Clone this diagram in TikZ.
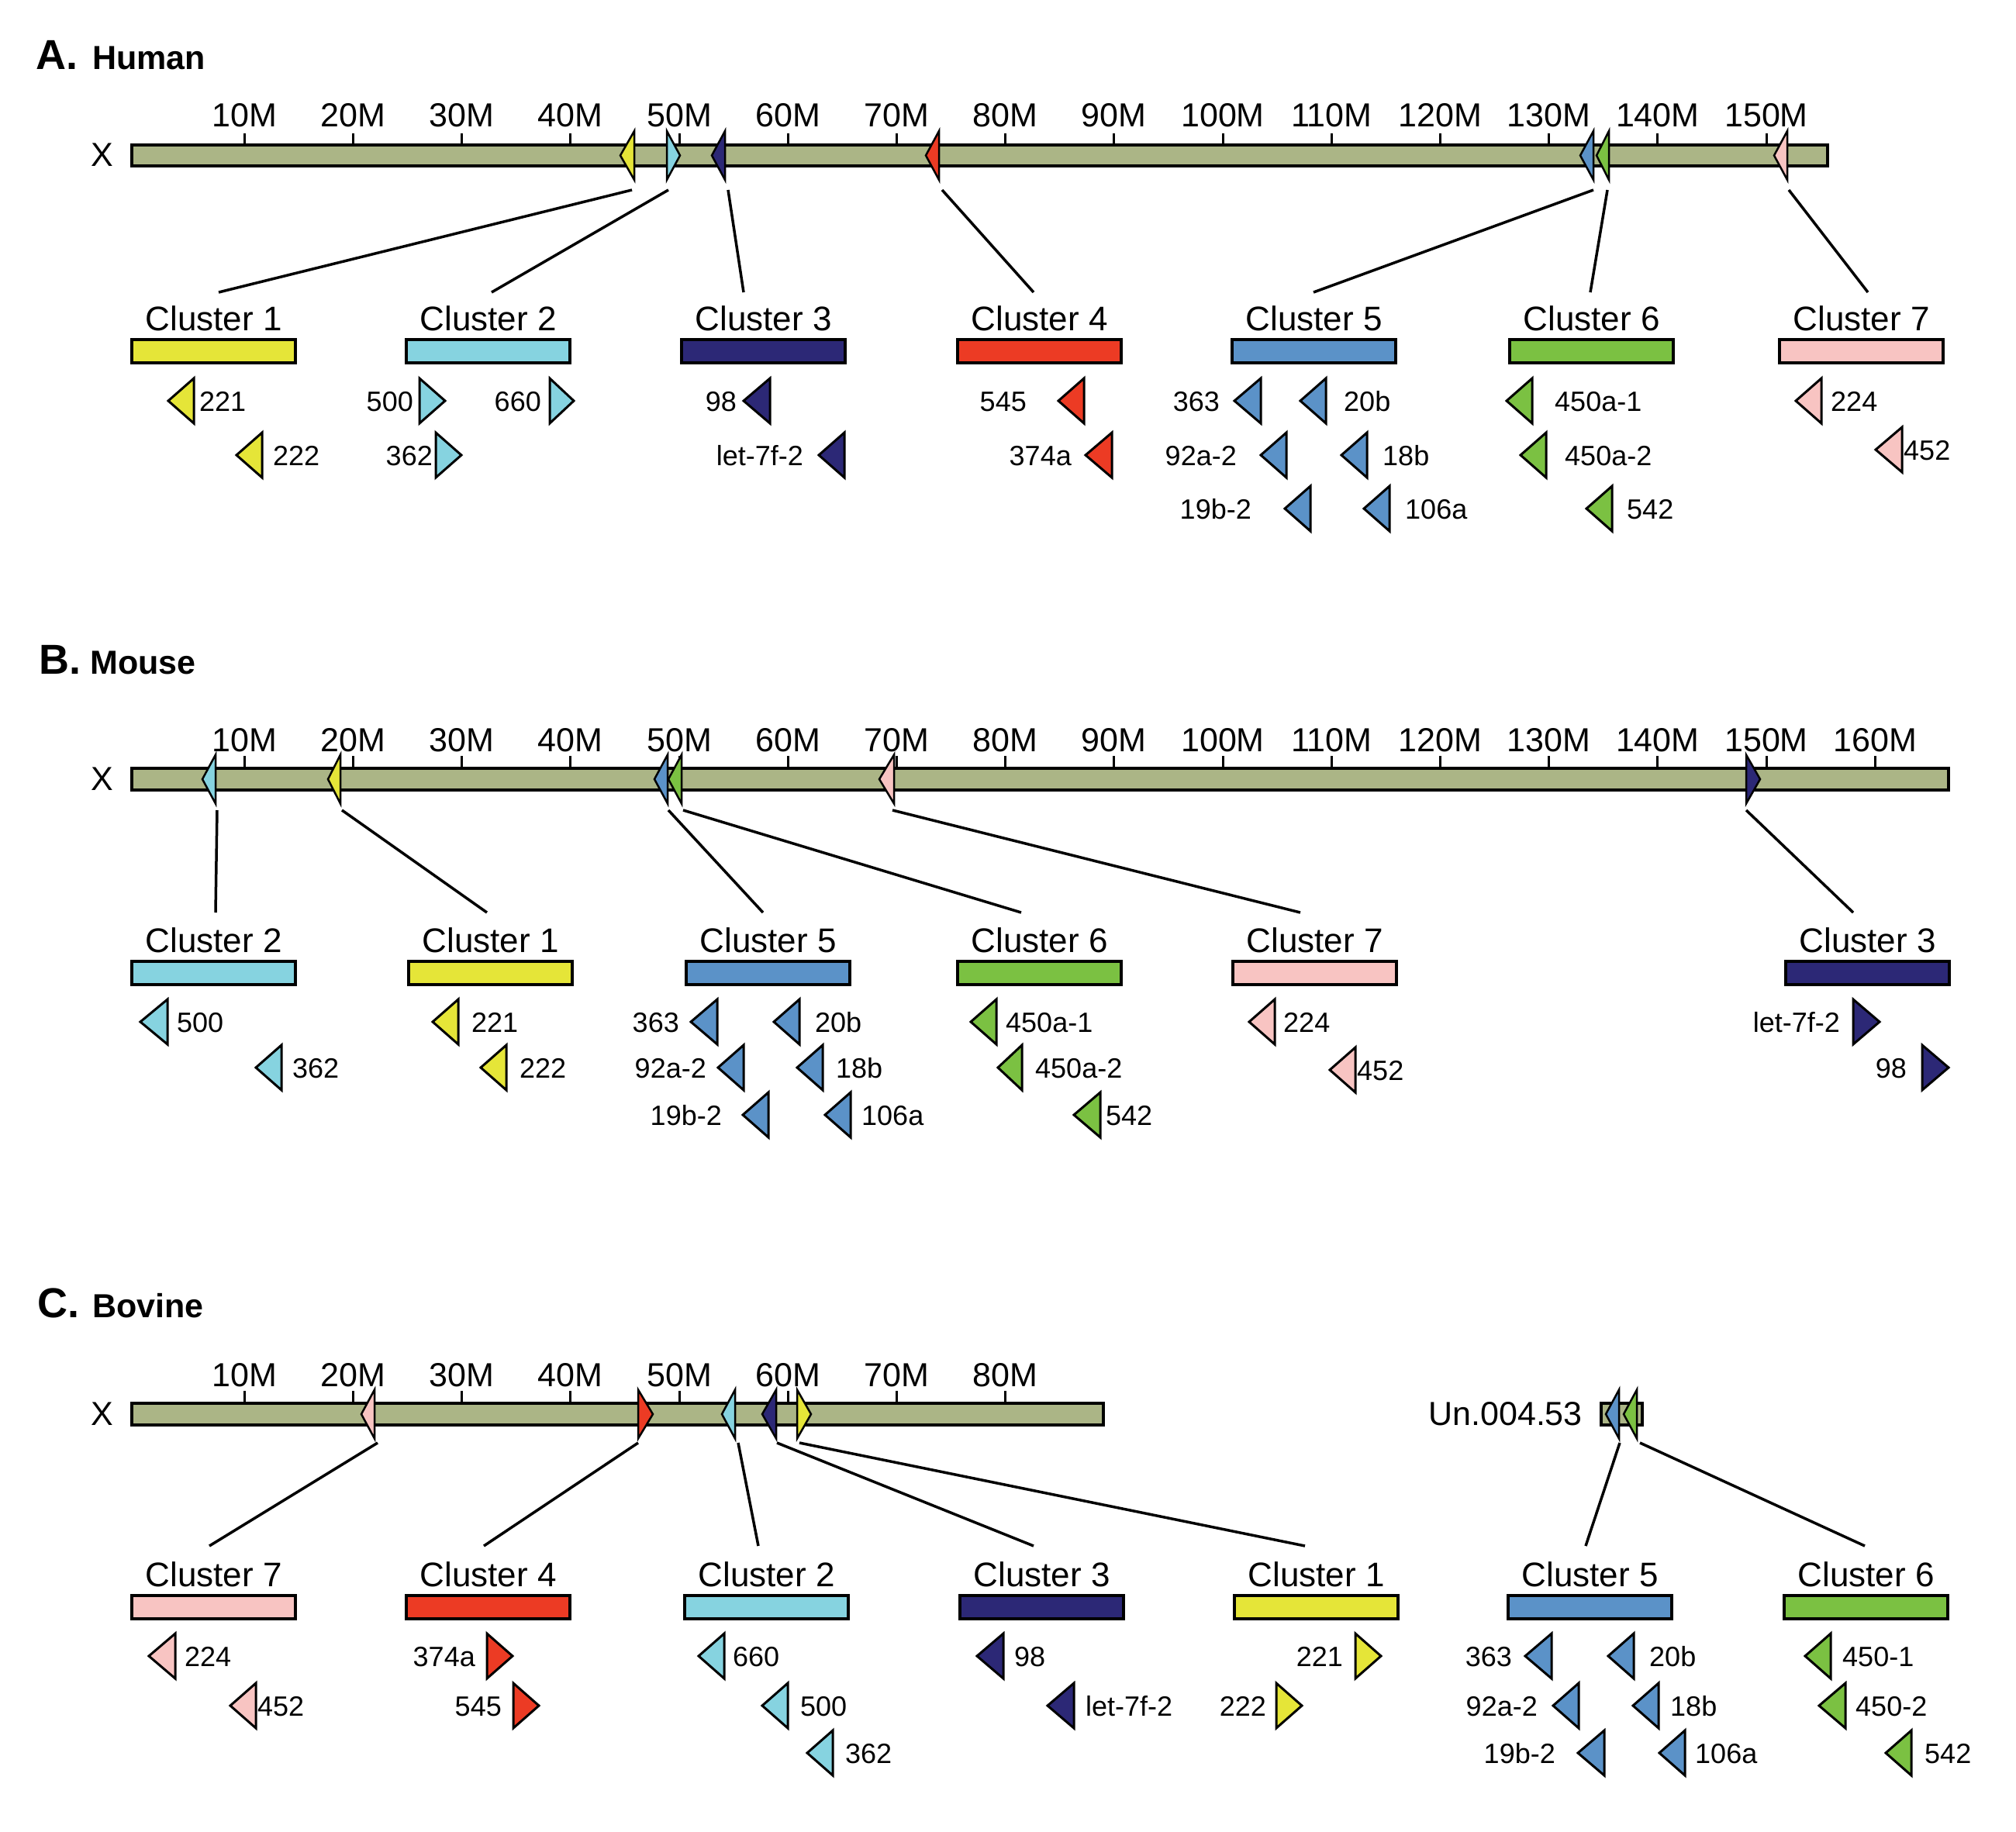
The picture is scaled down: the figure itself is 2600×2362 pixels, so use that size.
\documentclass[tikz,border=0pt]{standalone}
\usepackage{fontspec}
\setmainfont{Liberation Sans}
\definecolor{chrom}{RGB}{171,181,134}
\definecolor{cA}{RGB}{229,229,56}
\definecolor{cB}{RGB}{134,211,224}
\definecolor{cC}{RGB}{44,40,118}
\definecolor{cD}{RGB}{236,59,36}
\definecolor{cE}{RGB}{91,146,200}
\definecolor{cF}{RGB}{123,193,66}
\definecolor{cG}{RGB}{248,196,194}
\tikzset{
 barbox/.style={draw=black, line width=4pt},
 mkline/.style={draw=black, line width=2.5pt, line join=miter},
 tribox/.style={draw=black, line width=3pt, line join=miter},
 conn/.style={line width=3.5pt},
 tickline/.style={line width=3pt},
 ticklab/.style={font=\fontsize{43}{50}\selectfont, inner sep=0pt},
 clab/.style={font=\fontsize{44}{52}\selectfont, inner sep=0pt, anchor=base},
 ilab/.style={font=\fontsize{36}{42}\selectfont, inner sep=0pt},
 titlab/.style={font=\fontsize{54}{60}\selectfont\bfseries, inner sep=0pt, anchor=base west},
 titword/.style={font=\fontsize{43}{50}\selectfont\bfseries, inner sep=0pt, anchor=base west},
}
% marker on chromosome: base x, tip x, centre y, colour
\newcommand\chrmk[4]{\draw[mkline, fill=#4] (#1,{#3-31.5}) -- (#1,{#3+31.5}) -- (#2,#3) -- cycle;}
% item triangle: base x, tip x, centre y, colour
\newcommand\itri[4]{\draw[tribox, fill=#4] (#1,{#3-29}) -- (#1,{#3+29}) -- (#2,#3) -- cycle;}
% labels: name, x, baseline, text
\newcommand\lbw[4]{\node[ilab, anchor=base west] (#1) at (#2,#3) {#4};}
\newcommand\lbe[4]{\node[ilab, anchor=base east] (#1) at (#2,#3) {#4};}
% cluster: name, left x, bar top y, colour, text
\newcommand\clus[5]{\draw[barbox, fill=#4] (#2,#3) rectangle ({#2+211},{#3+29.5});
 \node[clab] (#1) at ({#2+105.5},{#3-12}) {#5};}
\begin{document}
\begin{tikzpicture}[x=1pt,y=-1pt]
\fill[white] (0,0) rectangle (2600,2362);
\useasboundingbox (0,0) rectangle (2600,2362);

% ================= A. Human =================
\node[titlab] (tA) at (46,89) {A.};
\node[titword] (tAw) at (119,89) {Human};
\node[ticklab, anchor=base east] (hX) at (146,214) {X};
\draw[barbox, fill=chrom] (170,187) rectangle (2357,214);
\foreach \m in {10,20,...,150}{
 \draw[tickline] ({175+14.02*\m},172) -- ({175+14.02*\m},187);
 \node[ticklab, anchor=base] at ({175+14.02*\m},163) {\m M};
}
\chrmk{818}{800}{200.5}{cA}
\chrmk{860}{877}{200.5}{cB}
\chrmk{935}{918}{200.5}{cC}
\chrmk{1211}{1194}{200.5}{cD}
\chrmk{2055}{2038}{200.5}{cE}
\chrmk{2075}{2059}{200.5}{cF}
\chrmk{2305}{2288}{200.5}{cG}

\coordinate (hs1) at (815,245); \coordinate (he1) at (282,377);
\coordinate (hs2) at (862,245); \coordinate (he2) at (634,377);
\coordinate (hs3) at (939,245); \coordinate (he3) at (959,377);
\coordinate (hs4) at (1215,245); \coordinate (he4) at (1333,377);
\coordinate (hs5) at (2055,245); \coordinate (he5) at (1694,377);
\coordinate (hs6) at (2073,245); \coordinate (he6) at (2051,377);
\coordinate (hs7) at (2307,245); \coordinate (he7) at (2409,377);
\foreach \i in {1,...,7}{\draw[conn] (hs\i) -- (he\i);}

\clus{hc1}{170}{438}{cA}{Cluster 1}
\clus{hc2}{524}{438}{cB}{Cluster 2}
\clus{hc3}{879}{438}{cC}{Cluster 3}
\clus{hc4}{1235}{438}{cD}{Cluster 4}
\clus{hc5}{1589}{438}{cE}{Cluster 5}
\clus{hc6}{1947}{438}{cF}{Cluster 6}
\clus{hc7}{2295}{438}{cG}{Cluster 7}

% rows: 517 / 587 / 656
\itri{250}{217}{517}{cA} \lbw{h221}{257}{530}{221}
\itri{338}{305}{587}{cA} \lbw{h222}{352}{600}{222}
\lbe{h500}{533}{530}{500} \itri{541}{574}{517}{cB}
\lbe{h660}{698}{530}{660} \itri{709}{740}{517}{cB}
\lbe{h362}{558}{600}{362} \itri{562}{595}{587}{cB}
\lbe{h98}{950}{530}{98} \itri{993}{959}{517}{cC}
\lbe{hlet}{1036}{600}{let-7f-2} \itri{1089}{1056}{587}{cC}
\lbe{h545}{1324}{530}{545} \itri{1398}{1365}{517}{cD}
\lbe{h374}{1382}{600}{374a} \itri{1434}{1400}{587}{cD}
\lbe{h363}{1573}{530}{363} \itri{1626}{1592}{517}{cE}
\itri{1710}{1677}{517}{cE} \lbw{h20b}{1733}{530}{20b}
\lbe{h92}{1595}{600}{92a-2} \itri{1659}{1626}{587}{cE}
\itri{1763}{1730}{587}{cE} \lbw{h18b}{1783}{600}{18b}
\lbe{h19}{1614}{669}{19b-2} \itri{1690}{1657}{656}{cE}
\itri{1792}{1759}{656}{cE} \lbw{h106}{1812}{669}{106a}
\itri{1976}{1943}{517}{cF} \lbw{h4501}{2005}{530}{450a-1}
\itri{1994}{1961}{587}{cF} \lbw{h4502}{2018}{600}{450a-2}
\itri{2079}{2046}{656}{cF} \lbw{h542}{2098}{669}{542}
\itri{2349}{2316}{517}{cG} \lbw{h224}{2361}{530}{224}
\itri{2453}{2419}{580}{cG} \lbw{h452}{2455}{593}{452}

% ================= B. Mouse =================
\node[titlab] (tB) at (50,869) {B.};
\node[titword] (tBw) at (116,869) {Mouse};
\node[ticklab, anchor=base east] (mX) at (146,1019) {X};
\draw[barbox, fill=chrom] (170,991) rectangle (2513,1019);
\foreach \m in {10,20,...,160}{
 \draw[tickline] ({175+14.02*\m},975) -- ({175+14.02*\m},991);
 \node[ticklab, anchor=base] at ({175+14.02*\m},969) {\m M};
}
\chrmk{278}{261}{1005}{cB}
\chrmk{439}{423}{1005}{cA}
\chrmk{861}{844}{1005}{cE}
\chrmk{879}{862}{1005}{cF}
\chrmk{1153}{1134}{1005}{cG}
\chrmk{2252}{2270}{1005}{cC}

\coordinate (ms1) at (280,1045); \coordinate (me1) at (278,1177);
\coordinate (ms2) at (441,1045); \coordinate (me2) at (628,1177);
\coordinate (ms3) at (862,1045); \coordinate (me3) at (984,1177);
\coordinate (ms4) at (881,1045); \coordinate (me4) at (1317,1177);
\coordinate (ms5) at (1151,1045); \coordinate (me5) at (1677,1177);
\coordinate (ms6) at (2252,1045); \coordinate (me6) at (2390,1177);
\foreach \i in {1,...,6}{\draw[conn] (ms\i) -- (me\i);}

\clus{mc2}{170}{1240}{cB}{Cluster 2}
\clus{mc1}{527}{1240}{cA}{Cluster 1}
\clus{mc5}{885}{1240}{cE}{Cluster 5}
\clus{mc6}{1235}{1240}{cF}{Cluster 6}
\clus{mc7}{1590}{1240}{cG}{Cluster 7}
\clus{mc3}{2303}{1240}{cC}{Cluster 3}

% rows: 1318 / 1377 / 1438
\itri{216}{181}{1318}{cB} \lbw{m500}{228}{1331}{500}
\itri{363}{330}{1377}{cB} \lbw{m362}{377}{1390}{362}
\itri{591}{558}{1318}{cA} \lbw{m221}{608}{1331}{221}
\itri{653}{620}{1377}{cA} \lbw{m222}{670}{1390}{222}
\lbe{m363}{876}{1331}{363} \itri{925}{891}{1318}{cE}
\itri{1031}{998}{1318}{cE} \lbw{m20b}{1051}{1331}{20b}
\lbe{m92}{911}{1390}{92a-2} \itri{959}{926}{1377}{cE}
\itri{1061}{1028}{1377}{cE} \lbw{m18b}{1078}{1390}{18b}
\lbe{m19}{931}{1451}{19b-2} \itri{991}{958}{1438}{cE}
\itri{1097}{1064}{1438}{cE} \lbw{m106}{1111}{1451}{106a}
\itri{1285}{1252}{1318}{cF} \lbw{m4501}{1297}{1331}{450a-1}
\itri{1318}{1287}{1377}{cF} \lbw{m4502}{1335}{1390}{450a-2}
\itri{1419}{1385}{1438}{cF} \lbw{m542}{1426}{1451}{542}
\itri{1644}{1611}{1318}{cG} \lbw{m224}{1655}{1331}{224}
\itri{1748}{1715}{1380}{cG} \lbw{m452}{1750}{1393}{452}
\lbe{mlet}{2373}{1331}{let-7f-2} \itri{2390}{2424}{1318}{cC}
\lbe{m98}{2459}{1390}{98} \itri{2479}{2513}{1377}{cC}

% ================= C. Bovine =================
\node[titlab] (tC) at (48,1699) {C.};
\node[titword] (tCw) at (119,1699) {Bovine};
\node[ticklab, anchor=base east] (bX) at (146,1838) {X};
\draw[barbox, fill=chrom] (170,1810) rectangle (1423,1838);
\foreach \m in {10,20,...,80}{
 \draw[tickline] ({175+14.02*\m},1794) -- ({175+14.02*\m},1810);
 \node[ticklab, anchor=base] at ({175+14.02*\m},1788) {\m M};
}
\chrmk{483}{466}{1824}{cG}
\chrmk{823}{842}{1824}{cD}
\chrmk{948}{931}{1824}{cB}
\chrmk{1001}{983}{1824}{cC}
\chrmk{1028}{1046}{1824}{cA}
\node[ticklab, anchor=base east] (bUn) at (2041,1838) {Un.004.53};
\draw[barbox, fill=chrom] (2065,1810) rectangle (2118,1838);
\chrmk{2088}{2071}{1824}{cE}
\chrmk{2111}{2094}{1824}{cF}

\coordinate (bs1) at (487,1861); \coordinate (be1) at (270,1994);
\coordinate (bs2) at (823,1861); \coordinate (be2) at (624,1994);
\coordinate (bs3) at (952,1861); \coordinate (be3) at (978,1994);
\coordinate (bs4) at (1002,1861); \coordinate (be4) at (1333,1994);
\coordinate (bs5) at (1031,1861); \coordinate (be5) at (1683,1994);
\coordinate (bs6) at (2089,1861); \coordinate (be6) at (2045,1994);
\coordinate (bs7) at (2115,1861); \coordinate (be7) at (2405,1994);
\foreach \i in {1,...,7}{\draw[conn] (bs\i) -- (be\i);}

\clus{bc7}{170}{2058}{cG}{Cluster 7}
\clus{bc4}{524}{2058}{cD}{Cluster 4}
\clus{bc2}{883}{2058}{cB}{Cluster 2}
\clus{bc3}{1238}{2058}{cC}{Cluster 3}
\clus{bc1}{1592}{2058}{cA}{Cluster 1}
\clus{bc5}{1945}{2058}{cE}{Cluster 5}
\clus{bc6}{2301}{2058}{cF}{Cluster 6}

% rows: 2136 / 2200 / 2261
\itri{226}{192}{2136}{cG} \lbw{b224}{238}{2149}{224}
\itri{330}{297}{2200}{cG} \lbw{b452}{332}{2213}{452}
\lbe{b374}{613}{2149}{374a} \itri{628}{661}{2136}{cD}
\lbe{b545}{647}{2213}{545} \itri{662}{695}{2200}{cD}
\itri{934}{901}{2136}{cB} \lbw{b660}{945}{2149}{660}
\itri{1016}{983}{2200}{cB} \lbw{b500}{1032}{2213}{500}
\itri{1074}{1041}{2261}{cB} \lbw{b362}{1090}{2274}{362}
\itri{1294}{1260}{2136}{cC} \lbw{b98}{1308}{2149}{98}
\itri{1385}{1351}{2200}{cC} \lbw{blet}{1400}{2213}{let-7f-2}
\lbe{b221}{1732}{2149}{221} \itri{1748}{1781}{2136}{cA}
\lbe{b222}{1633}{2213}{222} \itri{1646}{1679}{2200}{cA}
\lbe{b363}{1950}{2149}{363} \itri{2001}{1967}{2136}{cE}
\itri{2107}{2074}{2136}{cE} \lbw{b20b}{2127}{2149}{20b}
\lbe{b92}{1983}{2213}{92a-2} \itri{2036}{2003}{2200}{cE}
\itri{2139}{2106}{2200}{cE} \lbw{b18b}{2154}{2213}{18b}
\lbe{b19}{2006}{2274}{19b-2} \itri{2069}{2035}{2261}{cE}
\itri{2173}{2140}{2261}{cE} \lbw{b106}{2186}{2274}{106a}
\itri{2361}{2328}{2136}{cF} \lbw{b4501}{2376}{2149}{450-1}
\itri{2380}{2346}{2200}{cF} \lbw{b4502}{2393}{2213}{450-2}
\itri{2465}{2432}{2261}{cF} \lbw{b542}{2482}{2274}{542}
\end{tikzpicture}
\end{document}
